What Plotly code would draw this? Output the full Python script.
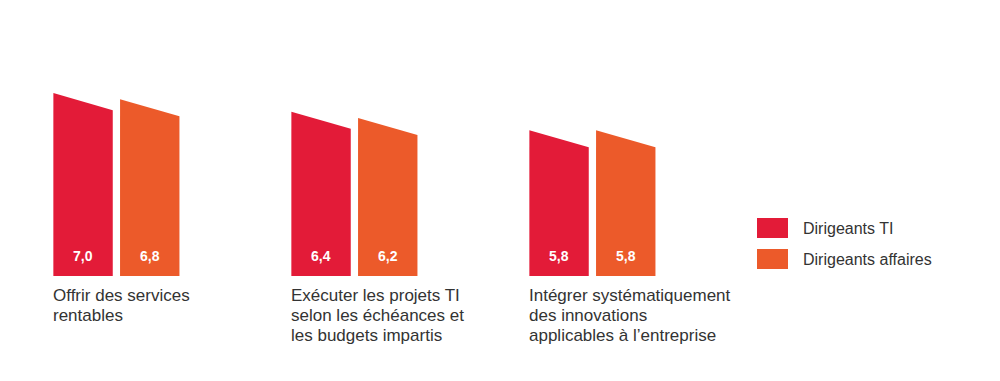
import plotly.graph_objects as go

# ---- data ----
categories = [
    "Offrir des services\nrentables",
    "Exécuter les projets TI\nselon les échéances et\nles budgets impartis",
    "Intégrer systématiquement\ndes innovations\napplicables à l’entreprise",
]
series_names = ["Dirigeants TI", "Dirigeants affaires"]
dirigeants_ti = [7.0, 6.4, 5.8]
dirigeants_affaires = [6.8, 6.2, 5.8]
value_labels_ti = ["7,0", "6,4", "5,8"]
value_labels_aff = ["6,8", "6,2", "5,8"]

# ---- style ----
colors = ["#E31B38", "#EC5A2A"]
text_color = "#333333"
W, H = 1000, 381
OFF = 8  # page body margin offset
PX_PER_UNIT_X = 238.0
X0_PX = 116.4 - OFF
PX_PER_UNIT_Y = 31.0
BASE = 1.1          # value at bar bottom
BASE_PX = 276.0 - OFF
BAR_W = 0.2496
HALF_GAP = 0.0153
SLANT = 0.55        # drop of right top corner (value units)

x_range = [-X0_PX / PX_PER_UNIT_X, (W - X0_PX) / PX_PER_UNIT_X]
y_top = BASE + BASE_PX / PX_PER_UNIT_Y
y_bot = BASE - (H - BASE_PX) / PX_PER_UNIT_Y


def ypx(p):
    """screen pixel row -> y value"""
    return BASE + (BASE_PX - (p - OFF)) / PX_PER_UNIT_Y


fig = go.Figure()

series = [dirigeants_ti, dirigeants_affaires]
labels = [value_labels_ti, value_labels_aff]
for s, (vals, labs) in enumerate(zip(series, labels)):
    for i, v in enumerate(vals):
        if s == 0:
            x0, x1 = i - HALF_GAP - BAR_W, i - HALF_GAP
        else:
            x0, x1 = i + HALF_GAP, i + HALF_GAP + BAR_W
        fig.add_trace(go.Scatter(
            x=[x0, x0, x1, x1, x0],
            y=[BASE, v, v - SLANT, BASE, BASE],
            mode="lines", fill="toself", fillcolor=colors[s],
            line=dict(width=0, color=colors[s]),
            hoverinfo="skip", showlegend=False,
        ))
        fig.add_annotation(
            x=(x0 + x1) / 2, y=ypx(255.5), text=labs[i],
            showarrow=False, xanchor="center", yanchor="middle",
            font=dict(family="Liberation Sans, Arial", size=14, color="white",
                      weight="bold"),
        )

# category labels
for i, cat in enumerate(categories):
    for k, line in enumerate(cat.split("\n")):
        fig.add_annotation(
            x=i - HALF_GAP - BAR_W, y=ypx(295 + 20 * k), text=line,
            showarrow=False, xanchor="left", yanchor="middle",
            xshift=-2,
            font=dict(family="Liberation Sans, Arial", size=17, color=text_color),
        )

# legend
for k, name in enumerate(series_names):
    top = 218 + 31 * k - OFF
    fig.add_shape(type="rect", xref="paper", yref="paper",
                  x0=(757 - OFF) / W, x1=(788 - OFF) / W,
                  y0=1 - (top + 20) / H, y1=1 - top / H,
                  fillcolor=colors[k], line=dict(width=0))
    fig.add_annotation(
        xref="paper", yref="paper", x=(801 - OFF) / W, y=1 - (top + 10) / H,
        text=name, showarrow=False, xanchor="left", yanchor="middle",
        font=dict(family="Liberation Sans, Arial", size=16, color=text_color),
    )

fig.update_layout(
    width=W, height=H,
    margin=dict(l=0, r=0, t=0, b=0),
    paper_bgcolor="white", plot_bgcolor="white",
    xaxis=dict(range=x_range, visible=False, fixedrange=True),
    yaxis=dict(range=[y_bot, y_top], visible=False, fixedrange=True),
    showlegend=False,
)

fig.write_html("out.html")
